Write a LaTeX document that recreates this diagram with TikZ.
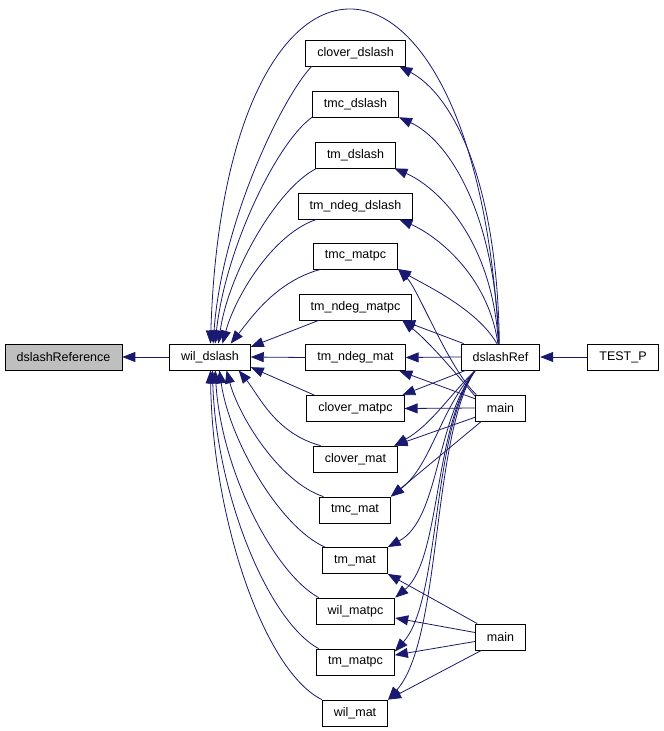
\documentclass[tikz,border=0pt]{standalone}
\usepackage{fontspec}
\setmainfont{Liberation Sans}
\usetikzlibrary{arrows.meta}
\definecolor{callblue}{RGB}{25,25,112}
\definecolor{rootgray}{RGB}{191,191,191}

\begin{document}
\begin{tikzpicture}[x=1pt, y=-1pt,
	fn/.style={draw=black, fill=white, line width=0.8pt, inner xsep=11.5pt, inner ysep=0pt, minimum height=26pt, font=\fontsize{12.5}{15}\selectfont},
	call/.style={draw=callblue, line width=0.8pt, -{Triangle[length=13pt,width=10pt]}}]
		\useasboundingbox (0,0) rectangle (664,731);
		% boxes
		\node[fn, fill=rootgray] (dref) at (63.5,357) {dslashReference};
		\node[fn] (wd) at (210,357) {wil\_dslash};
		\node[fn] (cd) at (355.5,53) {clover\_dslash};
		\node[fn] (tcd) at (355.5,104) {tmc\_dslash};
		\node[fn] (tmd) at (355.5,155) {tm\_dslash};
		\node[fn] (tnd) at (355.5,206) {tm\_ndeg\_dslash};
		\node[fn] (tcm) at (355.5,256) {tmc\_matpc};
		\node[fn] (tnm) at (355.5,307) {tm\_ndeg\_matpc};
		\node[fn] (tnmat) at (355.5,357.5) {tm\_ndeg\_mat};
		\node[fn] (cm) at (355.5,408.5) {clover\_matpc};
		\node[fn] (cmat) at (355.5,459) {clover\_mat};
		\node[fn] (tcmat) at (355,510) {tmc\_mat};
		\node[fn] (tmat) at (355,560.5) {tm\_mat};
		\node[fn] (wm) at (355.5,611) {wil\_matpc};
		\node[fn] (tmm) at (355.5,662) {tm\_matpc};
		\node[fn] (wmat) at (355,713) {wil\_mat};
		\node[fn] (dr) at (500.5,357) {dslashRef};
		\node[fn] (mainA) at (500.5,408) {main};
		\node[fn] (mainB) at (500.5,637) {main};
		\node[fn] (tp) at (623,357) {TEST\_P};

		% callers of wil_dslash
		\draw[call] (wd.west) -- (dref.east);
		\draw[call] (dr.97) .. controls +(-23,-444) and +(14,-444) .. (wd.88);
		\draw[call] (cd.197) .. controls +(-28,29) and +(9,-124) .. (wd.77);
		\draw[call] (tcd.197) .. controls +(-35,25) and +(10,-95) .. (wd.69);
		\draw[call] (tmd.199) .. controls +(-40,20) and +(10,-70) .. (wd.58);
		\draw[call] (tnd.199) .. controls +(-45,15) and +(12,-45) .. (wd.47);
		\draw[call] (tcm.201) .. controls +(-45,12) and +(20,-25) .. (wd.33);
		\draw[call] (tnm.200) -- (wd.14);
		\draw[call] (tnmat.west) -- (wd.east);
		\draw[call] (cm.162) -- (wd.-14);
		\draw[call] (cmat.159) .. controls +(-45,-12) and +(20,25) .. (wd.-25);
		\draw[call] (tcmat.157) .. controls +(-45,-15) and +(12,45) .. (wd.-39);
		\draw[call] (tmat.156) .. controls +(-45,-20) and +(10,70) .. (wd.-55);
		\draw[call] (wm.160) .. controls +(-45,-25) and +(6,100) .. (wd.-69);
		\draw[call] (tmm.160) .. controls +(-50,-27) and +(4,125) .. (wd.-80);
		\draw[call] (wmat.158) .. controls +(-57,-28) and +(2,150) .. (wd.-88);

		% dslashRef
		\draw[call] (tp.west) -- (dr.east);
		\draw[call] (dr.95) .. controls +(-2,-164) and +(53,28) .. (cd.-17);
		\draw[call] (dr.97) .. controls +(-4,-134) and +(48,22) .. (tcd.-17);
		\draw[call] (dr.99) .. controls +(-6,-105) and +(42,18) .. (tmd.-19);
		\draw[call] (dr.101) .. controls +(-10,-70) and +(35,15) .. (tnd.-17);
		\draw[call] (dr.105) .. controls +(-20,-35) and +(25,15) .. (tcm.-17);
		\draw[call] (dr.160) -- (tnm.-16);
		\draw[call] (dr.west) -- (tnmat.east);
		\draw[call] (dr.201) -- (cm.16);
		\draw[call] (dr.208) .. controls +(-26,25) and +(37,-21) .. (cmat.19);
		\draw[call] (dr.208) .. controls +(-36,40) and +(41,-32) .. (tcmat.north east);
		\draw[call] (dr.208) .. controls +(-40,50) and +(52,-28) .. (tmat.north east);
		\draw[call] (dr.208) .. controls +(-42,55) and +(46,-38) .. (wm.north east);
		\draw[call] (dr.208) .. controls +(-44,60) and +(46,-51) .. (tmm.15);
		\draw[call] (dr.208) .. controls +(-44,65) and +(54,-60) .. (wmat.north east);

		% upper main
		\draw[call] (mainA.151) .. controls +(-27,-25) and +(20,20) .. (tcm.-17);
		\draw[call] (mainA.155) .. controls +(-25,-30) and +(25,20) .. (tnm.-16);
		\draw[call] (mainA.160) -- (tnmat.-17);
		\draw[call] (mainA.west) -- (cm.east);
		\draw[call] (mainA.200) -- (cmat.19);
		\draw[call] (mainA.215) -- (tcmat.north east);

		% lower main
		\draw[call] (mainB.150) -- (tmat.south east);
		\draw[call] (mainB.170) -- (wm.-10);
		\draw[call] (mainB.190) -- (tmm.10);
		\draw[call] (mainB.215) -- (wmat.north east);
\end{tikzpicture}
\end{document}
